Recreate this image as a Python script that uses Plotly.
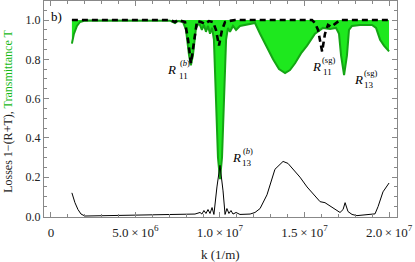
import plotly.graph_objects as go

# k values in units of 1e6 1/m
k_loss = [1.24, 1.42, 1.60, 1.78, 2.01, 2.9, 5.86, 7.63, 8.52, 8.82, 8.93, 9.05, 9.17, 9.29, 9.41, 9.53,
          9.64, 9.82, 10.0, 10.18, 10.30, 10.41, 10.53, 10.65, 10.77, 10.95, 11.18, 11.78, 12.07, 12.37,
          12.78, 13.25, 13.73, 14.02, 14.32, 14.73, 15.15, 15.56, 15.92, 16.21, 16.69, 17.1, 17.28,
          17.40, 17.57, 17.81, 18.1, 19.17, 19.35, 19.64, 20.0]
losses = [0.12, 0.07, 0.035, 0.012, 0.002, 0.003, 0.006, 0.01, 0.012, 0.02, 0.012, 0.03, 0.015, 0.035,
          0.015, 0.045, 0.01, 0.15, 0.26, 0.13, 0.01, 0.04, 0.015, 0.03, 0.012, 0.02, 0.01, 0.012, 0.02,
          0.04, 0.11, 0.24, 0.28, 0.27, 0.24, 0.20, 0.15, 0.11, 0.075, 0.07, 0.045, 0.02, 0.035, 0.07,
          0.025, 0.01, 0.004, 0.013, 0.05, 0.125, 0.17]

k_T = [1.24, 1.36, 1.54, 1.72, 2.01, 7.04, 7.34, 7.51, 7.81, 7.99, 8.17, 8.28, 8.40, 8.58, 8.76, 8.93,
       9.05, 9.17, 9.29, 9.41, 9.53, 9.64, 9.76, 9.88, 10.0, 10.12, 10.24, 10.36, 10.47, 10.59, 10.77,
       10.95, 11.18, 11.78, 12.07, 12.37, 12.72, 13.14, 13.49, 13.85, 14.14, 14.44, 14.79, 15.15, 15.62,
       16.09, 16.51, 16.86, 17.04, 17.16, 17.34, 17.51, 17.63, 17.81, 18.28, 18.99, 19.23, 19.47, 19.70, 20.0]
trans = [0.88, 0.93, 0.97, 0.99, 0.998, 0.997, 0.985, 0.995, 0.99, 0.95, 0.82, 0.77, 0.82, 0.96, 0.985,
         0.95, 0.975, 0.94, 0.97, 0.93, 0.96, 0.9, 0.6, 0.3, 0.19, 0.3, 0.6, 0.9, 0.96, 0.94, 0.97, 0.95,
         0.97, 0.98, 0.985, 0.93, 0.87, 0.80, 0.75, 0.73, 0.745, 0.78, 0.83, 0.87, 0.93, 0.96, 0.955, 0.96,
         0.93, 0.82, 0.72, 0.82, 0.95, 0.97, 0.975, 0.975, 0.96, 0.90, 0.87, 0.84]

k_D = [1.24, 7.04, 7.34, 7.51, 7.93, 8.11, 8.28, 8.46, 8.64, 8.88, 9.11, 9.35, 9.59, 9.76, 9.94, 10.12,
       10.30, 10.53, 10.89, 15.44, 15.62, 15.80, 16.04, 16.21, 16.39, 16.57, 16.80, 17.1, 20.0]
dashed = [1.0, 1.0, 0.99, 1.0, 0.99, 0.9, 0.78, 0.9, 0.995, 0.99, 0.98, 0.995, 0.99, 0.95, 0.87, 0.95,
          0.99, 0.995, 1.0, 1.0, 0.985, 0.95, 0.84, 0.93, 0.975, 0.965, 0.98, 1.0, 1.0]

x_tickvals = [0, 5e6, 1e7, 1.5e7, 2e7]
x_ticktext = ["0", "5.0\u2009×\u200910<sup>6</sup>", "1.0\u2009×\u200910<sup>7</sup>",
              "1.5\u2009×\u200910<sup>7</sup>", "2.0\u2009×\u200910<sup>7</sup>"]
y_tickvals = [0.0, 0.2, 0.4, 0.6, 0.8, 1.0]
y_ticktext = ["0.0", "0.2", "0.4", "0.6", "0.8", "1.0"]

sc = lambda a: [v * 1e6 for v in a]
FONT = "Liberation Serif"

fig = go.Figure()
fig.add_trace(go.Scatter(x=[sc(k_T)[0], sc(k_T)[-1]], y=[1.0, 1.0], mode="lines",
                         line=dict(width=0, color="rgba(0,0,0,0)"), showlegend=False, hoverinfo="skip"))
fig.add_trace(go.Scatter(x=sc(k_T), y=trans, mode="lines", fill="tonexty",
                         fillcolor="rgb(30,232,30)", line=dict(color="rgb(20,165,20)", width=2),
                         showlegend=False))
fig.add_trace(go.Scatter(x=sc(k_D), y=dashed, mode="lines",
                         line=dict(color="black", width=2.6, dash="6px,4px"), showlegend=False))
fig.add_trace(go.Scatter(x=sc(k_loss), y=losses, mode="lines",
                         line=dict(color="black", width=1), showlegend=False))

axis_common = dict(showline=True, linecolor="#888", linewidth=1, mirror="ticks", ticks="inside",
                   tickcolor="#888", ticklen=5, showgrid=False, zeroline=False)
fig.update_xaxes(range=[-4.1e5, 2.047e7], tickvals=x_tickvals, ticktext=x_ticktext,
                 tickfont=dict(family=FONT, size=13, color="#222"), ticklabelstandoff=3,
                 minor=dict(ticks="inside", dtick=1e6, ticklen=3, tickcolor="#888", tick0=0),
                 **axis_common)
fig.update_yaxes(range=[-0.003, 1.097], tickvals=y_tickvals, ticktext=y_ticktext,
                 tickfont=dict(family=FONT, size=12, color="#222"),
                 minor=dict(ticks="inside", dtick=0.05, ticklen=3, tickcolor="#888", tick0=0),
                 **axis_common)

ann = []
ann.append(dict(text="b)", x=0, y=1, xref="paper", yref="paper", xanchor="left", yanchor="top",
                xshift=5, yshift=-6, showarrow=False, font=dict(family=FONT, size=13, color="black")))
ann.append(dict(text="Losses 1−(R+T), <span style='color:rgb(20,185,20)'>Transmittance T</span>",
                x=0, y=0.487, xref="paper", yref="paper", xanchor="center", yanchor="middle",
                xshift=-36, textangle=-90, showarrow=False, font=dict(family=FONT, size=12, color="#222")))
ann.append(dict(text="k (1/m)", x=0.5, y=0, xref="paper", yref="paper", xanchor="center",
                yanchor="middle", yshift=-37, showarrow=False, font=dict(family=FONT, size=13, color="#222")))

def px2x(px):
    return (px - 51) / 169 * 1e7

def py2y(py):
    return (216.7 - py) / 196.7

labels = [
    (172, 70, "(<i>b</i>)", 185, 63, "11", 184, 76),
    (236, 158, "(<i>b</i>)", 248, 151, "13", 247, 163),
    (316, 67, "(sg)", 328, 60, "11", 327, 72),
    (358, 80, "(sg)", 370, 73, "13", 369, 85),
]
for rx, ry, sup, sx, sy, sub, bx, by in labels:
    ann.append(dict(text="<i>R</i>", x=px2x(rx), y=py2y(ry), xanchor="center", yanchor="middle",
                    showarrow=False, font=dict(family=FONT, size=13, color="black")))
    ann.append(dict(text=sup, x=px2x(sx), y=py2y(sy), xanchor="center", yanchor="middle",
                    showarrow=False, font=dict(family=FONT, size=8.5, color="black")))
    ann.append(dict(text=sub, x=px2x(bx), y=py2y(by), xanchor="center", yanchor="middle",
                    showarrow=False, font=dict(family=FONT, size=9, color="black")))

fig.update_layout(width=415, height=262, margin=dict(l=44, r=18, t=1, b=45),
                  plot_bgcolor="white", paper_bgcolor="white", annotations=ann,
                  font=dict(family=FONT))
fig.write_html("out.html", config={"displayModeBar": False},
               post_script="document.body.style.margin='0';")
